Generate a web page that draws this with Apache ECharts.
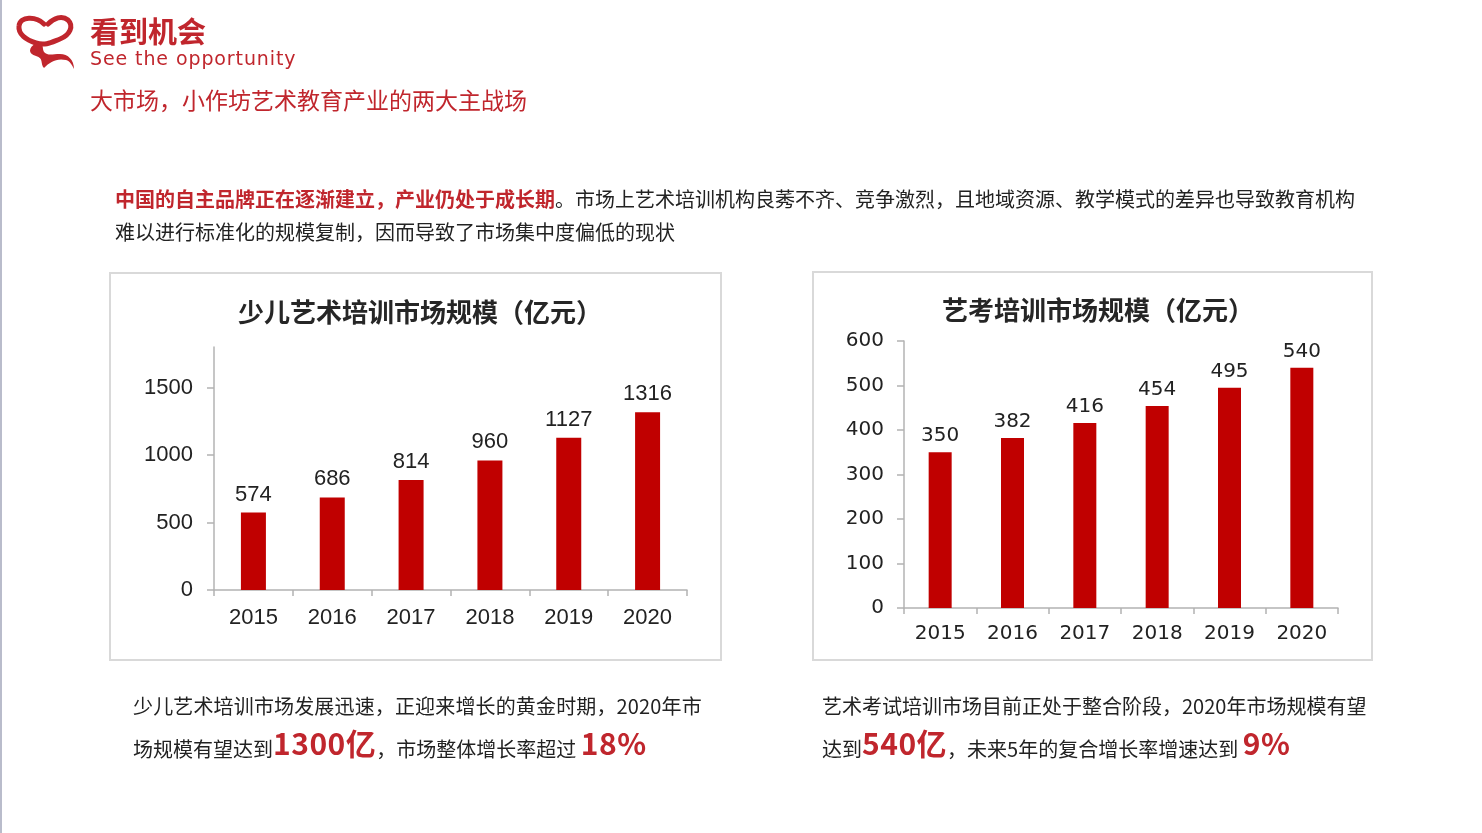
<!DOCTYPE html>
<html>
<head>
<meta charset="utf-8">
<script src="https://cdn.jsdelivr.net/npm/echarts@6/dist/echarts.min.js"></script>
<style>
  html, body { margin:0; padding:0; background:#fff; }
  body { width:1482px; height:833px; position:relative; overflow:hidden; font-family:"Noto Sans CJK SC", sans-serif; }
  #chart { position:absolute; left:0; top:0; width:1482px; height:833px; }
  .t { position:absolute; white-space:nowrap; line-height:1; }
  .big { font-size:30px; font-weight:bold; color:#c0262d; letter-spacing:0.5px; position:relative; top:-2px; }
</style>
</head>
<body>
<div id="chart"></div>
<div style="position:absolute;left:0;top:0;width:2px;height:833px;background:#b9bccb;"></div>
<svg style="position:absolute;left:14px;top:12px;" width="64" height="60" viewBox="0 0 64 60">
  <path d="M30 12 C22 4 6 4 5 14 C4 22 12 28 22 31 C32 34 38 30 46 27 C56 23 60 14 54 8 C48 3 40 6 34 12"
        fill="none" stroke="#c0262d" stroke-width="5" stroke-linecap="round"/>
  <path d="M22 31 C14 36 14 42 22 44 C30 46 26 52 30 56 C36 50 42 46 52 48 C56 49 58 53 60 57 C60 48 54 42 46 42 C38 42 34 44 30 40 C28 36 30 33 26 31 Z"
        fill="#c0262d"/>
</svg>
<div class="t" style="left:90px;top:16px;font-size:29px;font-weight:bold;color:#c0262d;">看到机会</div>
<div class="t" style="left:90px;top:49px;font-size:19px;color:#c0262d;font-family:'DejaVu Sans',sans-serif;letter-spacing:0.9px;">See the opportunity</div>
<div class="t" style="left:90px;top:88px;font-size:23px;color:#c0262d;">大市场，小作坊艺术教育产业的两大主战场</div>

<div class="t" style="left:115px;top:189px;font-size:20px;color:#222;"><span style="color:#c0262d;font-weight:bold;">中国的自主品牌正在逐渐建立，产业仍处于成长期</span>。市场上艺术培训机构良莠不齐、竞争激烈，且地域资源、教学模式的差异也导致教育机构</div>
<div class="t" style="left:115px;top:222px;font-size:20px;color:#222;">难以进行标准化的规模复制，因而导致了市场集中度偏低的现状</div>

<div class="t" style="left:133px;top:696px;font-size:20px;color:#222;letter-spacing:0.15px;">少儿艺术培训市场发展迅速，正迎来增长的黄金时期，2020年市</div>
<div class="t" style="left:133px;top:729px;font-size:20px;color:#222;">场规模有望达到<span class="big">1300亿</span>，市场整体增长率超过 <span class="big">18%</span></div>

<div class="t" style="left:822px;top:696px;font-size:20px;color:#222;">艺术考试培训市场目前正处于整合阶段，2020年市场规模有望</div>
<div class="t" style="left:822px;top:729px;font-size:20px;color:#222;">达到<span class="big">540亿</span>，未来5年的复合增长率增速达到 <span class="big">9%</span></div>

<script>
const years = ['2015', '2016', '2017', '2018', '2019', '2020'];
const childArtValues = [574, 686, 814, 960, 1127, 1316];
const artExamValues = [350, 382, 416, 454, 495, 540];
const childArtTicks = [0, 500, 1000, 1500];
const artExamTicks = [0, 100, 200, 300, 400, 500, 600];
const childArtTitle = '少儿艺术培训市场规模（亿元）';
const artExamTitle = '艺考培训市场规模（亿元）';

const W = 1482, H = 833;
const chart = echarts.init(document.getElementById('chart'), null, { renderer: 'canvas' });

const axisColor = '#b3b3b3';
const barColor = '#c00000';

function yAxis(gridIndex, max, interval, ticks, font, size, margin) {
  return {
    type: 'value', gridIndex, min: 0, max, interval,
    axisLine: { show: true, lineStyle: { color: axisColor, width: 1.5 } },
    axisTick: { show: true, inside: false, length: 7, customValues: ticks, lineStyle: { color: axisColor, width: 1.5 } },
    axisLabel: { customValues: ticks, formatter: v => String(v), fontFamily: font, fontSize: size, color: '#222', margin },
    splitLine: { show: false }
  };
}
function xAxis(gridIndex, font, size, margin) {
  return {
    type: 'category', gridIndex, data: years,
    axisLine: { show: true, lineStyle: { color: axisColor, width: 1.5 } },
    axisTick: { show: true, length: 6, alignWithLabel: false, lineStyle: { color: axisColor, width: 1.5 } },
    axisLabel: { fontFamily: font, fontSize: size, color: '#222', margin }
  };
}

chart.setOption({
  animation: false,
  backgroundColor: 'transparent',
  title: [
    { text: childArtTitle, left: 415, top: 294, textAlign: 'center',
      textStyle: { fontFamily: 'Noto Sans CJK SC', fontSize: 26, fontWeight: 'bold', color: '#262626' } },
    { text: artExamTitle, left: 1093, top: 292, textAlign: 'center',
      textStyle: { fontFamily: 'Noto Sans CJK SC', fontSize: 26, fontWeight: 'bold', color: '#262626' } }
  ],
  graphic: [
    { type: 'rect', shape: { x: 110, y: 273, width: 611, height: 387 }, style: { fill: 'none', stroke: '#d9d9d9', lineWidth: 2 } },
    { type: 'rect', shape: { x: 813, y: 272, width: 559, height: 388 }, style: { fill: 'none', stroke: '#d9d9d9', lineWidth: 2 } }
  ],
  grid: [
    { left: 214, right: W - 687, top: 347, bottom: H - 590 },
    { left: 904, right: W - 1338, top: 341, bottom: H - 608 }
  ],
  xAxis: [
    xAxis(0, 'Liberation Sans', 22, 17),
    xAxis(1, 'DejaVu Sans', 20, 16)
  ],
  yAxis: [
    yAxis(0, 1800, 500, childArtTicks, 'Liberation Sans', 22, 21),
    yAxis(1, 600, 100, artExamTicks, 'DejaVu Sans', 20, 20)
  ],
  series: [
    { type: 'bar', xAxisIndex: 0, yAxisIndex: 0, data: childArtValues, barWidth: 25,
      itemStyle: { color: barColor },
      label: { show: true, position: 'top', distance: 7, fontFamily: 'Liberation Sans', fontSize: 22, color: '#222' } },
    { type: 'bar', xAxisIndex: 1, yAxisIndex: 1, data: artExamValues, barWidth: 23,
      itemStyle: { color: barColor },
      label: { show: true, position: 'top', distance: 6, fontFamily: 'DejaVu Sans', fontSize: 20, color: '#222' } }
  ]
});
</script>
</body>
</html>
